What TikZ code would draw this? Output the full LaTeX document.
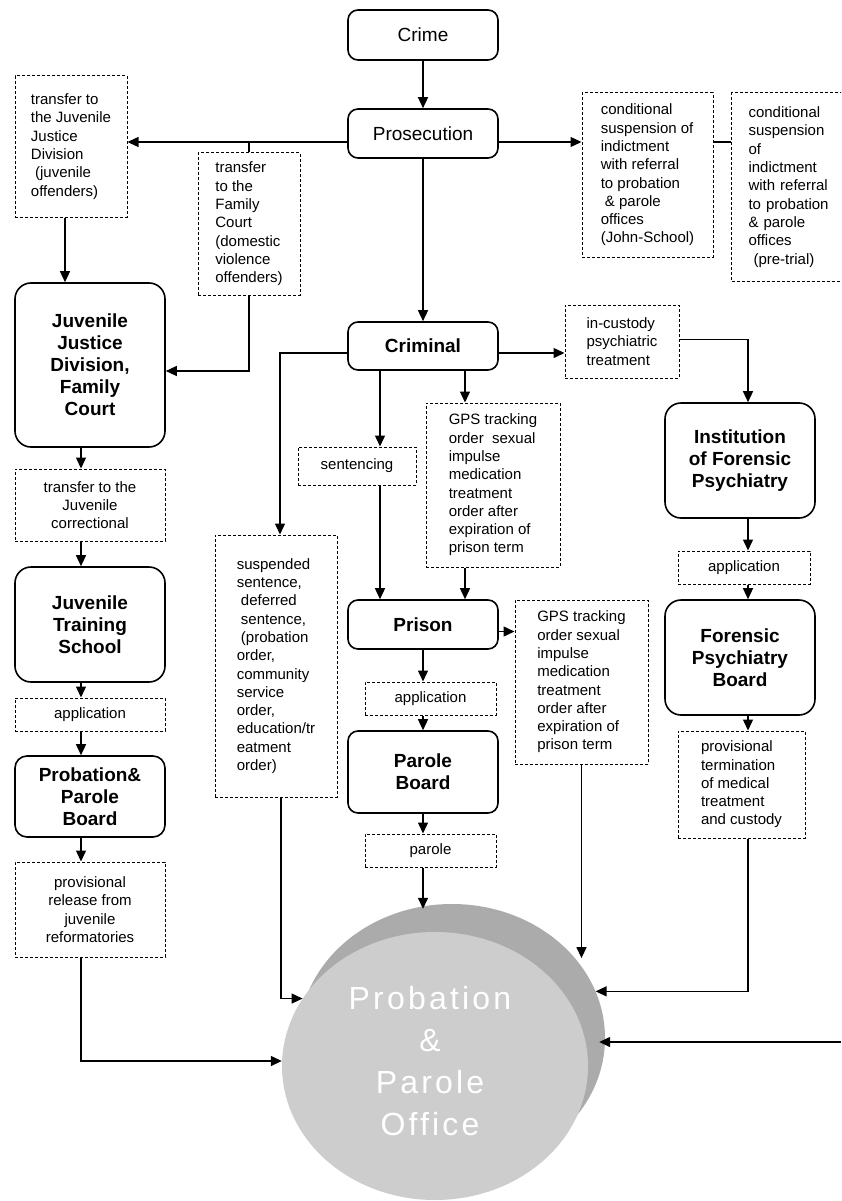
\documentclass[tikz,border=0pt]{standalone}
\usepackage{fontspec}
\setmainfont{Liberation Sans}
\usetikzlibrary{arrows.meta,shapes.geometric}
\definecolor{officedark}{HTML}{ABABAB}
\definecolor{officelight}{HTML}{CDCDCD}

\begin{document}
\begin{tikzpicture}[x=1pt,y=-1pt,font=\fontsize{15}{18.3}\selectfont]
	\useasboundingbox (0,0) rectangle (841,1201);
	\clip (0,0) rectangle (841,1201);

	\begin{scope}[every node/.style={ellipse,minimum width=306pt,minimum height=268pt,inner sep=0pt}]
		\node[fill=officedark] (officeback) at (452,1038) {};
		\node[fill=officelight] (office) at (435,1066) {};
	\end{scope}
	\node[text=white,align=center,inner sep=0pt,font=\fontsize{32}{42}\selectfont\addfontfeature{LetterSpace=10}] (officetext) at (430,1061) {Probation\\\&\\Parole\\Office};

	\begin{scope}[every node/.style={draw,line width=1.6pt,rounded corners=10pt,minimum width=150pt,inner sep=0pt,align=center,font=\fontsize{19}{22}\selectfont\bfseries}]
		\node[minimum height=50pt,font=\fontsize{19}{22}\selectfont] (crime) at (423,35) {Crime};
		\node[minimum height=49pt,font=\fontsize{19}{22}\selectfont] (prosecution) at (423,133.5) {Prosecution};
		\node[minimum height=48pt] (criminal) at (423,346) {Criminal};
		\node[minimum height=49pt] (prison) at (423,624.5) {Prison};
		\node[minimum height=82pt] (paroleboard) at (423,772) {Parole\\Board};
		\node[minimum height=164pt,rounded corners=16pt] (jjd) at (90,365) {Juvenile\\Justice\\Division,\\Family\\Court};
		\node[minimum height=115pt,rounded corners=16pt] (jts) at (90,624.5) {Juvenile\\Training\\School};
		\node[minimum height=81pt,rounded corners=12pt] (ppb) at (90,796.5) {Probation\&\\Parole\\Board};
		\node[minimum height=115pt,rounded corners=16pt] (ifp) at (740,460.5) {Institution\\of Forensic\\Psychiatry};
		\node[minimum height=115pt,rounded corners=16pt] (fpb) at (740,657.5) {Forensic\\Psychiatry\\Board};
	\end{scope}

	\begin{scope}[every node/.style={draw,line width=1pt,dash pattern=on 3pt off 2pt,inner sep=0pt,align=left}]
		\node[minimum width=112pt,minimum height=141pt] (tjj) at (71,146.5) {transfer to\\the Juvenile\\Justice\\Division\\\ (juvenile\\offenders)};
		\node[minimum width=102pt,minimum height=142pt] (tfc) at (249,224) {transfer\\to the\\Family\\Court\\(domestic\\violence\\offenders)};
		\node[minimum width=131pt,minimum height=164pt] (cs1) at (647.5,175) {conditional\\suspension of\\indictment\\with referral\\to probation\\\ \& parole\\offices\\(John-School)};
		\node[text width=110pt,inner xsep=17pt,minimum height=188pt,anchor=west] (cs2) at (731,187) {conditional\\suspension\\of\\indictment\\with referral\\to probation\\\& parole\\offices\\\ (pre-trial)};
		\node[minimum width=114pt,minimum height=73pt] (ict) at (622,341.5) {in-custody\\psychiatric\\treatment};
		\node[minimum width=118pt,minimum height=38pt] (sent) at (357,466) {sentencing};
		\node[minimum width=134pt,minimum height=164pt] (gps1) at (493,485) {GPS tracking\\order\ \ sexual\\impulse\\medication\\treatment\\order after\\expiration of\\prison term};
		\node[minimum width=122pt,minimum height=262pt] (sus) at (276,666) {suspended\\sentence,\\\ deferred\\\ sentence,\\\ (probation\\order,\\community\\service\\order,\\education/tr\\eatment\\order)};
		\node[minimum width=133pt,minimum height=164pt] (gps2) at (581.5,682) {GPS tracking\\order sexual\\impulse\\medication\\treatment\\order after\\expiration of\\prison term};
		\node[minimum width=131pt,minimum height=33pt] (app2) at (430.5,698.5) {application};
		\node[minimum width=131pt,minimum height=33pt] (parole) at (430.5,850.5) {parole};
		\node[minimum width=132pt,minimum height=33pt] (app3) at (744,567.5) {application};
		\node[minimum width=127pt,minimum height=107pt] (ptc) at (741.5,784.5) {provisional\\termination\\of medical\\treatment\\and custody};
		\node[minimum width=150pt,minimum height=72pt,align=center] (tjc) at (90,505) {transfer to the\\Juvenile\\correctional};
		\node[minimum width=150pt,minimum height=33pt,align=center] (app1) at (90,714.5) {application};
		\node[minimum width=150pt,minimum height=95pt,align=center] (prj) at (90,909.5) {provisional\\release from\\juvenile\\reformatories};
	\end{scope}

	\coordinate (lc) at (81,0);
	\coordinate (rc) at (748,0);
	\coordinate (pw) at ([yshift=-8.5pt]prosecution.west);
	\coordinate (pe) at ([yshift=-8.5pt]prosecution.east);
	\coordinate (cw) at ([yshift=-7pt]criminal.west);
	\coordinate (c1) at ([xshift=-43pt]criminal.south);
	\coordinate (c2) at ([xshift=42pt]criminal.south);
	\coordinate (pre) at ([yshift=-7pt]prison.east);
	\coordinate (ss) at ([xshift=5pt]sus.south);
	\coordinate (rim) at (841,1042);

	\begin{scope}[line width=1.4pt,>={Triangle[length=11pt,width=10pt]}]
		\draw[->] (crime) -- (prosecution);
		\draw[->] (pw) -- (pw -| tjj.east);
		\draw (tfc.north) -- (tfc.north |- pw);
		\draw[->] (tfc.south) |- ([yshift=-6pt]jjd.east);
		\draw[->] ([xshift=-6pt]tjj.south) -- ([xshift=-6pt]tjj.south |- jjd.north);
		\draw[->] (pe) -- (pe -| cs1.west);
		\draw (pe -| cs1.east) -- (pe -| cs2.west);
		\draw[->] (prosecution) -- (criminal);

		\draw[->] (cw) -| ([xshift=4pt]sus.north);
		\draw[->] (cw -| criminal.east) -- (cw -| ict.west);
		\draw[->] ([yshift=2pt]ict.east) -| (rc |- ifp.north);
		\draw[->] (c1) -- (c1 |- sent.north);
		\draw[->] (c1 |- sent.south) -- (c1 |- prison.north);
		\draw[->] (c2) -- (c2 |- gps1.north);
		\draw[->] (c2 |- gps1.south) -- (c2 |- prison.north);
		\draw[->] (pre) -- (pre -| gps2.west);
		\draw[->] (prison.south) -- (prison.south |- app2.north);
		\draw[->] (prison.south |- app2.south) -- (prison.south |- paroleboard.north);
		\draw[->] (paroleboard.south) -- (paroleboard.south |- parole.north);
		\draw[->] (paroleboard.south |- parole.south) -- ([yshift=-5pt]paroleboard.south |- officeback.north);

		\foreach \a/\b in {jjd/tjc,tjc/jts,jts/app1,app1/ppb,ppb/prj}
			\draw[->] (lc |- \a.south) -- (lc |- \b.north);
		\foreach \a/\b in {ifp/app3,app3/fpb,fpb/ptc}
			\draw[->] (rc |- \a.south) -- (rc |- \b.north);

		\draw[->] (lc |- prj.south) |- ([yshift=5pt]office.west);
		\draw[->] (ss) |- (office.153);
		\draw[->] (gps2.south) -- (gps2.south |- officeback.33);
		\draw[->] (rc |- ptc.south) |- (officeback.18);
		\draw[->] (rim) -- ([xshift=-6pt]rim -| officeback.east);
	\end{scope}
\end{tikzpicture}
\end{document}
